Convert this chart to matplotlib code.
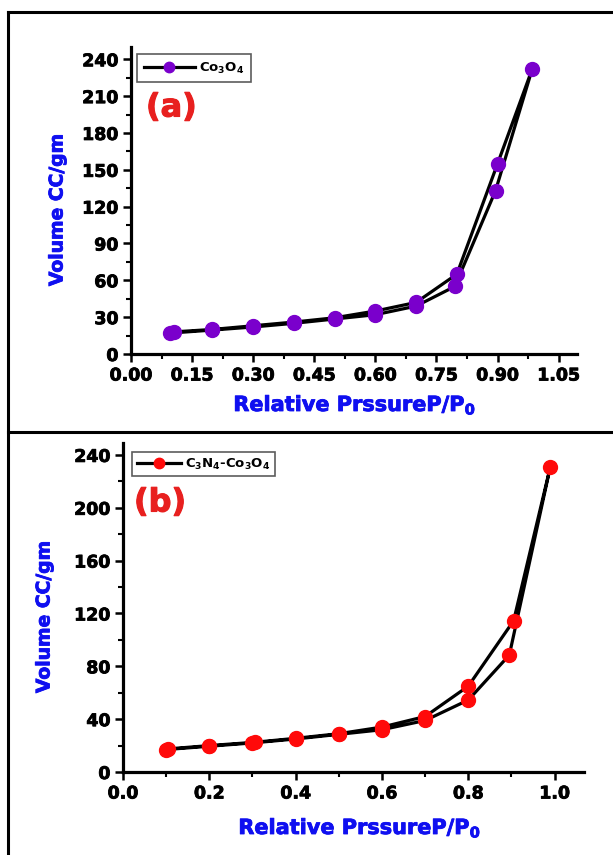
import matplotlib
matplotlib.use("Agg")
import matplotlib.pyplot as plt
import matplotlib.patheffects as pe
from matplotlib.lines import Line2D
from matplotlib.ticker import MultipleLocator, FormatStrFormatter

# ---------------- data ----------------
x_ads_a = [0.095, 0.20, 0.30, 0.40, 0.50, 0.60, 0.70, 0.795, 0.895, 0.985]
y_ads_a = [17, 19.5, 22, 25, 28.5, 32, 39, 55, 133, 232]
x_des_a = [0.985, 0.90, 0.80, 0.70, 0.60, 0.50, 0.40, 0.30, 0.20, 0.105]
y_des_a = [232, 155, 65, 42, 35, 29.5, 26, 23, 20, 18]

x_ads_b = [0.10, 0.20, 0.30, 0.40, 0.50, 0.60, 0.70, 0.80, 0.895, 0.99]
y_ads_b = [17, 19.5, 22, 25, 28.5, 32, 39, 54.5, 88.5, 231]
x_des_b = [0.99, 0.905, 0.80, 0.70, 0.60, 0.50, 0.40, 0.305, 0.20, 0.105]
y_des_b = [231, 114.5, 65, 42, 34, 29, 25.5, 22.5, 20, 17.5]

label_a = r"Co$_\mathbf{3}$O$_\mathbf{4}$"
label_b = r"C$_\mathbf{3}$N$_\mathbf{4}$-Co$_\mathbf{3}$O$_\mathbf{4}$"
ylabel = "Volume CC/gm"
xlabel = r"Relative PrssureP/P$_\mathbf{0}$"

W, H = 613, 855
plt.rcParams['font.family'] = ['DejaVu Sans']
plt.rcParams['mathtext.fontset'] = 'dejavusans'
plt.rcParams['mathtext.default'] = 'bf'

fig = plt.figure(figsize=(W / 100, H / 100), dpi=100)
fig.patch.set_facecolor('white')


def fx(x):
    return x / W


def fy(y):
    return 1 - y / H


def rect(l, t, r, b):
    return [fx(l), fy(b), fx(r) - fx(l), fy(t) - fy(b)]


BLUE = '#0f0ff0'
RED_TXT = '#e8201f'


def heavy(color, lw=0.7):
    return [pe.withStroke(linewidth=lw, foreground=color)]


def style_axes(ax, xmaj, xmin, xfmt, ymaj, ymin, xlim, ylim):
    ax.set_xlim(*xlim)
    ax.set_ylim(*ylim)
    for s in ['top', 'right']:
        ax.spines[s].set_visible(False)
    for s in ['left', 'bottom']:
        ax.spines[s].set_linewidth(2.3)
    ax.xaxis.set_major_locator(MultipleLocator(xmaj))
    ax.xaxis.set_minor_locator(MultipleLocator(xmin))
    ax.xaxis.set_major_formatter(FormatStrFormatter(xfmt))
    ax.yaxis.set_major_locator(MultipleLocator(ymaj))
    ax.yaxis.set_minor_locator(MultipleLocator(ymin))
    ax.tick_params(which='major', direction='out', length=6, width=1.8,
                   labelsize=12.5, pad=3)
    ax.tick_params(which='minor', direction='out', length=3.5, width=1.5)
    for lab in ax.get_xticklabels() + ax.get_yticklabels():
        lab.set_fontweight('bold')
        lab.set_path_effects(heavy('black', 0.6))


def draw(ax, xa, ya, xd, yd, color, label):
    xs = list(xa) + list(xd[1:])
    ys = list(ya) + list(yd[1:])
    ax.plot(xs, ys, color='black', lw=2.3, marker='o', ms=10,
            mfc=color, mec=color, label=label, solid_joinstyle='round')


# ---------- panel (a) ----------
ax1 = fig.add_axes(rect(131, 47, 577, 354))
draw(ax1, x_ads_a, y_ads_a, x_des_a, y_des_a, '#7a00cc', label_a)
style_axes(ax1, 0.15, 0.075, '%.2f', 30, 15, (0, 1.095), (0, 250))
leg1 = ax1.legend(loc='upper left', bbox_to_anchor=(fx(137), fy(54)),
                  bbox_transform=fig.transFigure, frameon=True, fancybox=False,
                  edgecolor='#333333', prop={'weight': 'bold', 'size': 9.5},
                  handlelength=3.9, markerscale=0.75, borderpad=0.5,
                  handletextpad=0.3, borderaxespad=0)
leg1.get_frame().set_linewidth(1.2)

fig.text(fx(146), fy(108), '(a)', color=RED_TXT, fontsize=23,
         fontweight='bold', ha='left', va='center',
         path_effects=heavy(RED_TXT, 0.8))
fig.text(fx(57), fy(210), ylabel, color=BLUE, fontsize=13.5,
         fontweight='bold', rotation=90, ha='center', va='center',
         path_effects=heavy(BLUE, 0.6))
fig.text(fx(355), fy(411), xlabel, color=BLUE, fontsize=15,
         fontweight='bold', ha='center', va='baseline',
         path_effects=heavy(BLUE, 0.6))

# ---------- panel (b) ----------
ax2 = fig.add_axes(rect(123, 443, 584, 772))
draw(ax2, x_ads_b, y_ads_b, x_des_b, y_des_b, '#ff0a0a', label_b)
style_axes(ax2, 0.2, 0.1, '%.1f', 40, 20, (0, 1.068), (0, 249))
leg2 = ax2.legend(loc='upper left', bbox_to_anchor=(fx(132), fy(452)),
                  bbox_transform=fig.transFigure, frameon=True, fancybox=False,
                  edgecolor='#333333', prop={'weight': 'bold', 'size': 9.5},
                  handlelength=3.4, markerscale=0.75, borderpad=0.35,
                  handletextpad=0.3, borderaxespad=0)
leg2.get_frame().set_linewidth(1.2)

fig.text(fx(134), fy(503), '(b)', color=RED_TXT, fontsize=23,
         fontweight='bold', ha='left', va='center',
         path_effects=heavy(RED_TXT, 0.8))
fig.text(fx(44), fy(617), ylabel, color=BLUE, fontsize=13.5,
         fontweight='bold', rotation=90, ha='center', va='center',
         path_effects=heavy(BLUE, 0.6))
fig.text(fx(360), fy(834), xlabel, color=BLUE, fontsize=15,
         fontweight='bold', ha='center', va='baseline',
         path_effects=heavy(BLUE, 0.6))

# ---------- figure frame lines ----------
lw_frame = 2.2
fig.add_artist(Line2D([fx(8), fx(613)], [fy(12), fy(12)], color='black',
                      lw=lw_frame, transform=fig.transFigure))
fig.add_artist(Line2D([fx(8), fx(8)], [fy(12), fy(855)], color='black',
                      lw=lw_frame, transform=fig.transFigure))
fig.add_artist(Line2D([fx(8), fx(613)], [fy(432), fy(432)], color='black',
                      lw=lw_frame, transform=fig.transFigure))

fig.savefig('out.png', dpi=100, facecolor='white')
